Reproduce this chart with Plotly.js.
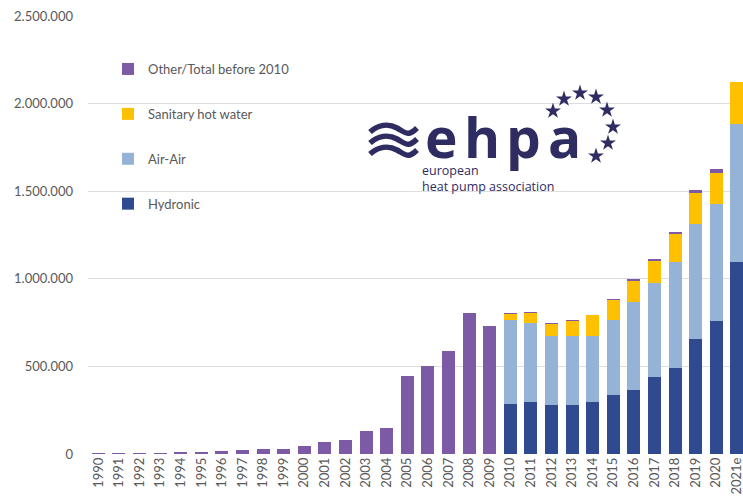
<!DOCTYPE html>
<html>
<head>
<meta charset="utf-8">
<script src="https://cdn.plot.ly/plotly-3.0.1.min.js"></script>
<style>html,body{margin:0;padding:0;background:#fff;}#chart{width:743px;height:499px;}</style>
</head>
<body>
<div id="chart"></div>
<script>
// ---- data ----
const years = ['1990','1991','1992','1993','1994','1995','1996','1997','1998','1999',
  '2000','2001','2002','2003','2004','2005','2006','2007','2008','2009',
  '2010','2011','2012','2013','2014','2015','2016','2017','2018','2019','2020','2021e'];
const otherTotal = [4000,4500,3500,4000,10000,9000,15000,21000,27000,27000,
  44000,67000,82000,133000,147000,444000,505000,587000,805000,730000,
  6000,5000,5000,8000,2000,10000,11000,14000,13000,19000,23000,0];
const hydronic = [null,null,null,null,null,null,null,null,null,null,
  null,null,null,null,null,null,null,null,null,null,
  284000,296000,280000,282000,296000,336000,366000,437000,492000,654000,761000,1095000];
const airAir = [null,null,null,null,null,null,null,null,null,null,
  null,null,null,null,null,null,null,null,null,null,
  479000,452000,395000,393000,375000,431000,502000,539000,605000,660000,667000,787000];
const sanitaryHotWater = [null,null,null,null,null,null,null,null,null,null,
  null,null,null,null,null,null,null,null,null,null,
  36000,57000,69000,84000,120000,110000,118000,124000,156000,173000,174000,242000];
const yTickVals = [0,500000,1000000,1500000,2000000,2500000];
const yTickText = ['0','500.000','1.000.000','1.500.000','2.000.000','2.500.000'];
const seriesNames = ['Hydronic','Air-Air','Sanitary hot water','Other/Total before 2010'];

// ---- layout constants ----
const W = 743, H = 499;
const M = {l: 88, r: 0, t: 16, b: 45};
const navy = '#2e2c61';
const fx = px => (px - M.l) / (W - M.l - M.r);
const fy = py => (H - M.b - py) / (H - M.t - M.b);

const colors = ['#2f4a8e', '#95b3d7', '#ffc000', '#7d5aa5'];
const seriesData = [hydronic, airAir, sanitaryHotWater, otherTotal];
const ranks = [4, 3, 2, 1];
const traces = seriesData.map((d, i) => ({
  type: 'bar', x: years, y: d, name: seriesNames[i],
  marker: {color: colors[i], line: {width: 0}},
  legendgroup: 'g' + i, legendrank: ranks[i], hoverinfo: 'x+y+name'
}));

// logo decoration (pixel frame overlay axes)
const starPos = [[553,111],[564,99],[580,93],[596,97],[607,110],[613,127],[608,143],[596,156]];
traces.push({
  type: 'scatter', mode: 'markers', xaxis: 'x2', yaxis: 'y2',
  x: starPos.map(s => s[0]), y: starPos.map(s => s[1]),
  marker: {symbol: 'star', size: 12, color: navy, line: {width: 0}},
  showlegend: false, hoverinfo: 'skip', cliponaxis: false
});

const shapes = [];
[0, 11, 22].forEach(dy => {
  const p = (x, y) => x + ',' + (y + dy);
  shapes.push({
    type: 'path', xref: 'x2', yref: 'y2',
    path: 'M' + p(370, 132) + ' C' + p(378, 125) + ' ' + p(388, 123) + ' ' + p(397, 128) +
          ' S' + p(408, 137) + ' ' + p(417, 128),
    line: {color: navy, width: 5.5}, fillcolor: 'rgba(0,0,0,0)'
  });
});

const annotations = [];
const letters = [['e', 441], ['h', 482], ['p', 523], ['a', 564]];
letters.forEach(([ch, x]) => annotations.push({
  xref: 'paper', yref: 'paper', x: fx(x), y: fy(136), xanchor: 'center', yanchor: 'middle',
  text: '<b>' + ch + '</b>', showarrow: false,
  font: {family: 'Open Sans', size: 55, color: navy}
}));
annotations.push({xref: 'paper', yref: 'paper', x: fx(420), y: fy(178), xanchor: 'left', yanchor: 'middle',
  align: 'left', text: 'european<br>heat pump association', showarrow: false,
  font: {family: 'Open Sans', size: 12.5, color: navy}});

const layout = {
  width: W, height: H,
  margin: M,
  paper_bgcolor: '#ffffff', plot_bgcolor: '#ffffff',
  barmode: 'stack', bargap: 0.37,
  font: {family: 'Lato', size: 13, color: '#595959'},
  xaxis: {
    type: 'category', range: [-0.5, 31.3], tickangle: -90,
    showgrid: false, showline: false, zeroline: false, ticks: '',
    tickfont: {family: 'Lato', size: 13, color: '#595959'}
  },
  yaxis: {
    range: [0, 2500000], tickvals: yTickVals, ticktext: yTickText,
    showgrid: true, gridcolor: '#dedede', gridwidth: 1, zeroline: false, showline: false,
    ticks: '', ticklabelstandoff: 14,
    tickfont: {family: 'Lato', size: 13, color: '#595959'}
  },
  xaxis2: {overlaying: 'x', range: [M.l, W - M.r], visible: false, fixedrange: true},
  yaxis2: {overlaying: 'y', range: [H - M.b, M.t], visible: false, fixedrange: true},
  legend: {
    x: fx(108), y: fy(54), xanchor: 'left', yanchor: 'top',
    traceorder: 'grouped', tracegroupgap: 25,
    bgcolor: 'rgba(0,0,0,0)', font: {family: 'Lato', size: 13, color: '#595959'}
  },
  showlegend: true,
  shapes: shapes,
  annotations: annotations
};

Plotly.newPlot('chart', traces, layout, {displayModeBar: false, staticPlot: true});
</script>
</body>
</html>
